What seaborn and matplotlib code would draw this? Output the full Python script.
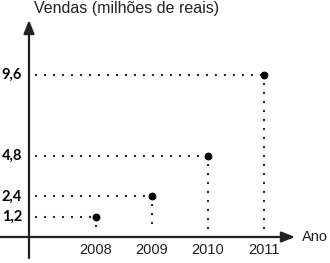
import matplotlib
matplotlib.use("Agg")
import matplotlib.pyplot as plt
import seaborn as sns
import pandas as pd

years = [2008, 2009, 2010, 2011]
sales = [1.2, 2.4, 4.8, 9.6]
y_tick_labels = ["1,2", "2,4", "4,8", "9,6"]
title = "Vendas (milhões de reais)"
x_label = "Ano"

sns.set_style("white")

fig = plt.figure(figsize=(3.30, 2.63), dpi=100)
ax = fig.add_axes([0, 0, 1, 1])
px_year = 56.0
px_unit = 16.9
x0 = 2008 - 96 / px_year
x1 = 2008 + (330 - 96) / px_year
ax.set_xlim(x0, x1)
ax.set_ylim((237 - 263) / px_unit, 237 / px_unit)
ax.axis("off")

yaxis_x = 2008 - 67 / px_year
guide_start = 2008 - 60 / px_year

df = pd.DataFrame({"year": years, "sales": sales})

for yr, s in zip(years, sales):
    for xs, ys in (([guide_start, yr], [s, s]), ([yr, yr], [s, 0.35])):
        ln, = ax.plot(xs, ys, color="#1a1a1a", lw=1.7, dash_capstyle="round")
        ln.set_dashes([0.01, 3.8])

sns.scatterplot(data=df, x="year", y="sales", color="black", s=32,
                edgecolor="black", linewidth=0, ax=ax, zorder=5)

# axes with arrows
ax.annotate("", xy=(yaxis_x, 237 / px_unit - 20 / px_unit), xytext=(yaxis_x, (237 - 258) / px_unit),
            arrowprops=dict(arrowstyle="-|>,head_length=0.8,head_width=0.32", color="#222222",
                            lw=1.6, shrinkA=0, shrinkB=0))
ax.annotate("", xy=(2008 + (295 - 96) / px_year, 0), xytext=(x0, 0),
            arrowprops=dict(arrowstyle="-|>,head_length=0.8,head_width=0.32", color="#222222",
                            lw=1.6, shrinkA=0, shrinkB=0))

for s, lab in zip(sales, y_tick_labels):
    ax.text(2008 - 74 / px_year, s, lab, ha="right", va="center", fontsize=10.5,
            fontweight="bold", family="Lato", color="black")

for yr in years:
    ax.text(yr, -13 / px_unit, str(yr), ha="center", va="center", fontsize=10.5,
            family="Liberation Sans", color="#222222")

ax.text(2008 + (302 - 96) / px_year, 0, x_label, ha="left", va="center", fontsize=10.5,
        family="Liberation Sans", color="#222222")
ax.text(2008 - 62 / px_year, (237 - 9) / px_unit, title, ha="left", va="center",
        fontsize=11.5, family="Liberation Sans", color="#222222")

fig.savefig("out.png", dpi=100)
